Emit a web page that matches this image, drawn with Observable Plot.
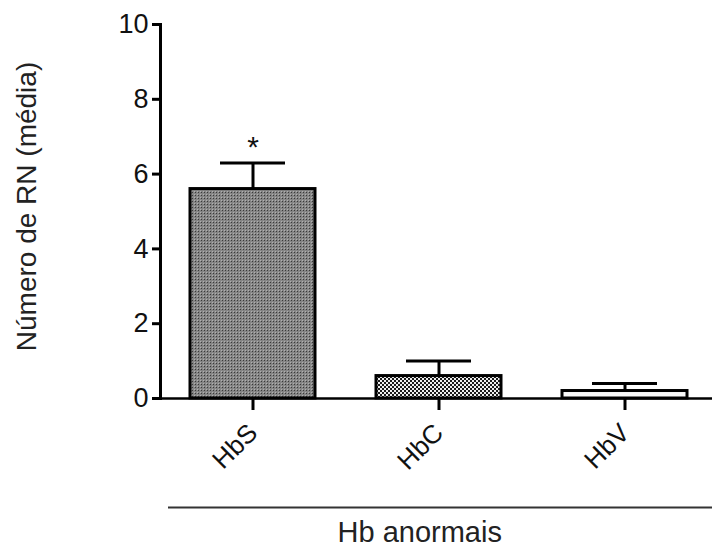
<!DOCTYPE html>
<html><head><meta charset="utf-8">
<script src="https://cdn.jsdelivr.net/npm/d3@7"></script>
<script src="https://cdn.jsdelivr.net/npm/@observablehq/plot@0.6"></script>
<style>body{margin:0;background:#fff;}</style>
</head><body><div id="chart"></div>
<script>
const categories = ["HbS", "HbC", "HbV"];
const means = [5.6, 0.6, 0.2];
const errors = [0.7, 0.4, 0.2];
const fills = ["url(#patS)", "url(#patC)", "url(#patV)"];
const yTicks = [0, 2, 4, 6, 8, 10];
const significance = [{category: "HbS", label: "*"}];
const yLabel = "Número de RN (média)";
const xGroupLabel = "Hb anormais";

const data = categories.map((c, i) => ({category: c, mean: means[i], top: means[i] + errors[i], fill: fills[i]}));
const topOf = c => data.find(d => d.category === c).top;

const font = "'Liberation Sans', Arial, sans-serif";
const plot = Plot.plot({
  width: 712, height: 548,
  marginLeft: 160, marginTop: 24, marginBottom: 150, marginRight: 0,
  style: {fontFamily: font, background: "#fff", color: "#000"},
  x: {domain: categories, range: [160, 718], paddingInner: 0.326, paddingOuter: 0.155},
  y: {domain: [0, 10]},
  color: {type: "identity"},
  marks: [
    Plot.barY(data, {x: "category", y: "mean", fill: "fill", stroke: "#000", strokeWidth: 3}),
    Plot.ruleX(data, {x: "category", y1: "mean", y2: "top", stroke: "#000", strokeWidth: 3}),
    Plot.tickY(data, {x: "category", y: "top", stroke: "#000", strokeWidth: 3, insetLeft: 30, insetRight: 30}),
    Plot.text(significance, {x: "category", y: d => topOf(d.category), text: "label", dy: -15, fontSize: 30, fill: "#111"}),
    Plot.frame({anchor: "left", stroke: "#000", strokeWidth: 3}),
    Plot.frame({anchor: "bottom", stroke: "#000", strokeWidth: 2.5}),
    Plot.axisY({ticks: yTicks, tickSize: 8, tickPadding: 4, fontSize: 27, label: null, strokeWidth: 3, fill: "#111"}),
    Plot.axisX({tickSize: 12, tickPadding: 18, tickRotate: -45, fontSize: 26, label: null, strokeWidth: 3, fill: "#111"}),
    Plot.text([yLabel], {frameAnchor: "left", dx: -133, dy: -5, rotate: -90, fontSize: 28, fill: "#222", textAnchor: "middle"}),
    Plot.ruleY([0], {dy: 109, insetLeft: 8, stroke: "#333", strokeWidth: 2}),
    Plot.text([xGroupLabel], {frameAnchor: "bottom-left", dx: 177, dy: 143, fontSize: 29, fill: "#222", textAnchor: "start"})
  ]
});

const svg = d3.select(plot);
const defs = svg.insert("defs", ":first-child");
const pS = defs.append("pattern").attr("id", "patS").attr("patternUnits", "userSpaceOnUse").attr("width", 3).attr("height", 3);
pS.append("rect").attr("width", 3).attr("height", 3).attr("fill", "#858585");
pS.append("rect").attr("width", 1).attr("height", 1).attr("fill", "#3a3a3a");
pS.append("rect").attr("x", 2).attr("y", 2).attr("width", 1).attr("height", 1).attr("fill", "#b0b0b0");
const pC = defs.append("pattern").attr("id", "patC").attr("patternUnits", "userSpaceOnUse").attr("width", 4).attr("height", 4);
pC.append("rect").attr("width", 4).attr("height", 4).attr("fill", "#1a1a1a");
pC.append("rect").attr("x", 0).attr("y", 0).attr("width", 2).attr("height", 2).attr("fill", "#eeeeee");
pC.append("rect").attr("x", 2).attr("y", 2).attr("width", 2).attr("height", 2).attr("fill", "#eeeeee");
const pV = defs.append("pattern").attr("id", "patV").attr("patternUnits", "userSpaceOnUse").attr("width", 3).attr("height", 3);
pV.append("rect").attr("width", 3).attr("height", 3).attr("fill", "#fafafa");

document.getElementById("chart").appendChild(plot);
</script>
</body></html>
